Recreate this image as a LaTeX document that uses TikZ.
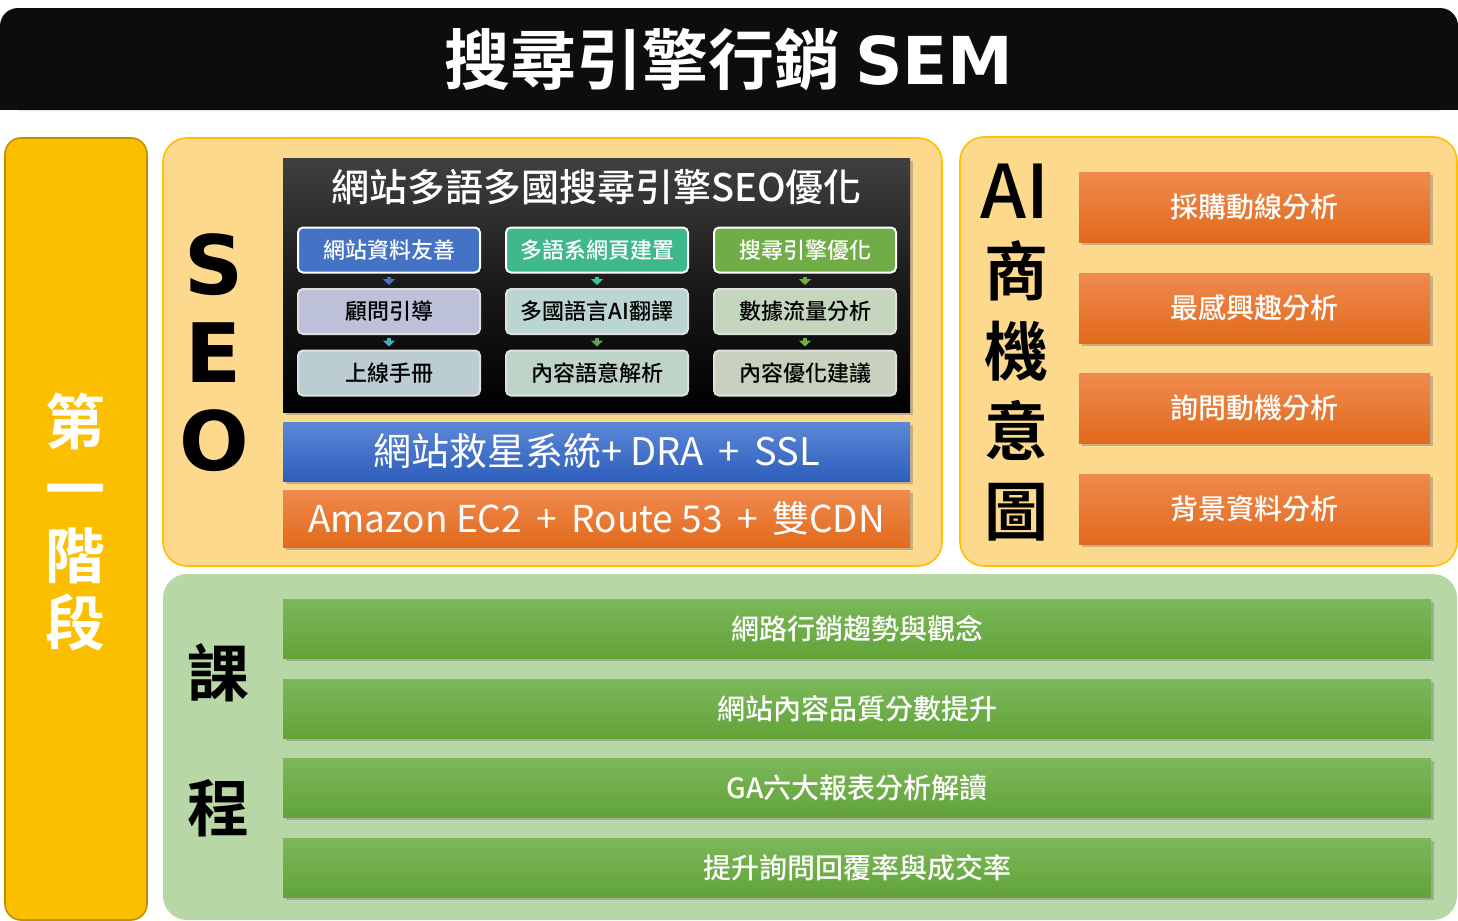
\documentclass[tikz,border=0pt]{standalone}
\usepackage{fontspec}
\setmainfont{Noto Sans CJK TC Medium}[BoldFont={Noto Sans CJK TC Bold}]
\newfontfamily\latinbold{DejaVu Sans}[BoldFont={DejaVu Sans Bold}]
\newfontfamily\cjkregular{Noto Sans CJK TC}
\usetikzlibrary{shadows,arrows.meta}

\definecolor{goldfill}{HTML}{FCBF00}
\definecolor{goldline}{HTML}{BF9000}
\definecolor{panelfill}{HTML}{FDD98E}
\definecolor{panelline}{HTML}{FFC000}
\definecolor{greenpanel}{HTML}{B8D7A6}
\definecolor{seoblue}{HTML}{4472C4}
\definecolor{seoteal}{HTML}{3FB88B}
\definecolor{seogreen}{HTML}{70AD47}
\definecolor{arrteal}{HTML}{4BACC6}
\definecolor{orangetop}{RGB}{239,138,78}
\definecolor{orangemid}{RGB}{242,128,46}
\definecolor{orangebot}{RGB}{226,106,28}
\definecolor{greentop}{RGB}{124,184,90}
\definecolor{greenbot}{RGB}{98,163,57}

\tikzset{
  panel/.style={draw=panelline, line width=0.8pt, fill=panelfill, rounded corners=12pt, inner sep=0pt},
  seobox/.style={draw=white, line width=1pt, rounded corners=2.5pt, minimum width=91pt, minimum height=22.5pt,
    inner sep=0pt, font=\fontsize{11}{13}\selectfont},
  toprow/.style={seobox, text=white},
  subrow/.style={seobox, draw=white!75!gray, text=black},
  bar/.style={minimum width=313.5pt, inner sep=0pt, text=white,
    drop shadow={shadow xshift=1.5pt, shadow yshift=-1.5pt, opacity=.45}},
  orangebar/.style={top color=orangetop, middle color=orangemid, bottom color=orangebot, text=white, inner sep=0pt,
    drop shadow={shadow xshift=1.5pt, shadow yshift=-1.5pt, opacity=.45}},
  greenbar/.style={top color=greentop, bottom color=greenbot, text=white,
    minimum width=574pt, minimum height=29.5pt, inner sep=0pt, font=\fontsize{14}{16}\selectfont,
    drop shadow={shadow xshift=1.5pt, shadow yshift=-1.5pt, opacity=.45}},
  flow/.style={line width=2pt, -{Triangle[width=6pt,length=3pt]}}
}

\begin{document}
\begin{tikzpicture}[x=0.5pt, y=-0.5pt]
  \useasboundingbox (0,0) rectangle (1458,921);

  \fill[black!95] (0,60) rectangle (1458,110);
  \node[fill=black!95, rounded corners=9pt, minimum width=729pt, minimum height=51pt, inner sep=0pt, text=white]
    (title) at (729,59) {\fontsize{33}{36}\selectfont\bfseries 搜尋引擎行銷 {\latinbold\bfseries SEM}};

  \node[draw=goldline, line width=0.8pt, fill=goldfill, rounded corners=8pt, minimum width=71pt, minimum height=391pt]
    (stage) at (76,529) {};
  \node[text=white, align=center, font=\bfseries\fontsize{30}{33.5}\selectfont] (stagetext) at (76,522) {第\\一\\階\\段};

  \node[panel, minimum width=389.5pt, minimum height=214pt] (seopanel) at (552.5,352) {};
  \node[panel, minimum width=248.5pt, minimum height=214.5pt] (aipanel) at (1208.5,351.5) {};
  \node[fill=greenpanel, rounded corners=12pt, minimum width=647pt, minimum height=173pt, inner sep=0pt]
    (coursepanel) at (810,747) {};

  \node[align=center, font=\latinbold\bfseries\fontsize{41}{44}\selectfont] (seoletters) at (214,353) {S\\E\\O};

  \node[top color=black!75, bottom color=black, middle color=black!90, minimum width=313.5pt, minimum height=127pt,
    drop shadow={shadow xshift=1.5pt, shadow yshift=-1.5pt, opacity=.45}] (seoblack) at (596.5,285) {};
  \node[text=white, font=\fontsize{19}{21}\selectfont] (seotitle) at (596.5,187) {網站多語多國搜尋引擎SEO優化};

  \node[toprow, fill=seoblue] (a1) at (389,250) {網站資料友善};
  \node[toprow, fill=seoteal] (b1) at (597,250) {多語系網頁建置};
  \node[toprow, fill=seogreen] (c1) at (805,250) {搜尋引擎優化};
  \node[subrow, fill={rgb,255:red,188;green,192;blue,216}] (a2) at (389,311.5) {顧問引導};
  \node[subrow, fill={rgb,255:red,187;green,213;blue,210}] (b2) at (597,311.5) {多國語言AI翻譯};
  \node[subrow, fill={rgb,255:red,197;green,214;blue,191}] (c2) at (805,311.5) {數據流量分析};
  \node[subrow, fill={rgb,255:red,187;green,204;blue,211}] (a3) at (389,373) {上線手冊};
  \node[subrow, fill={rgb,255:red,190;green,212;blue,200}] (b3) at (597,373) {內容語意解析};
  \node[subrow, fill={rgb,255:red,199;green,209;blue,189}] (c3) at (805,373) {內容優化建議};

  \draw[flow, seoblue] ([yshift=-1.5pt]a1.south) -- ([yshift=1.5pt]a2.north);
  \draw[flow, arrteal] ([yshift=-1.5pt]a2.south) -- ([yshift=1.5pt]a3.north);
  \draw[flow, seoteal!80!cyan] ([yshift=-1.5pt]b1.south) -- ([yshift=1.5pt]b2.north);
  \draw[flow, seogreen!80!teal] ([yshift=-1.5pt]b2.south) -- ([yshift=1.5pt]b3.north);
  \draw[flow, seogreen] ([yshift=-1.5pt]c1.south) -- ([yshift=1.5pt]c2.north);
  \draw[flow, seogreen] ([yshift=-1.5pt]c2.south) -- ([yshift=1.5pt]c3.north);

  \node[bar, minimum height=29.5pt, top color={rgb,255:red,92;green,136;blue,214}, bottom color={rgb,255:red,46;green,94;blue,188},
    font=\cjkregular\fontsize{19}{21}\selectfont] (rescue) at (596.5,451.5) {網站救星系統+ DRA\,\ +\,\ SSL};
  \node[orangebar, minimum width=313.5pt, minimum height=28.5pt, font=\cjkregular\fontsize{18.5}{21}\selectfont]
    (amazon) at (596.5,518.5) {Amazon EC2\,\ +\,\ Route 53\,\ +\,\ 雙CDN};

  \node[font=\fontsize{37}{40}\selectfont] (ailabel) at (1015,191) {AI};
  \node[align=center, font=\bfseries\fontsize{32}{40}\selectfont] (aitext) at (1016,391) {商\\機\\意\\圖};

  \node[orangebar, minimum width=175.5pt, minimum height=35pt, font=\fontsize{14}{16}\selectfont] (ai1) at (1254.5,207) {採購動線分析};
  \node[orangebar, minimum width=175.5pt, minimum height=35pt, font=\fontsize{14}{16}\selectfont] (ai2) at (1254.5,308) {最感興趣分析};
  \node[orangebar, minimum width=175.5pt, minimum height=35pt, font=\fontsize{14}{16}\selectfont] (ai3) at (1254.5,408) {詢問動機分析};
  \node[orangebar, minimum width=175.5pt, minimum height=35pt, font=\fontsize{14}{16}\selectfont] (ai4) at (1254.5,509) {背景資料分析};

  \node[font=\bfseries\fontsize{31}{34}\selectfont] (ke) at (218,673) {課};
  \node[font=\bfseries\fontsize{31}{34}\selectfont] (cheng) at (218,808) {程};

  \node[greenbar] (c1bar) at (857,628.5) {網路行銷趨勢與觀念};
  \node[greenbar] (c2bar) at (857,708.5) {網站內容品質分數提升};
  \node[greenbar] (c3bar) at (857,787.5) {GA六大報表分析解讀};
  \node[greenbar] (c4bar) at (857,867.5) {提升詢問回覆率與成交率};
\end{tikzpicture}
\end{document}
